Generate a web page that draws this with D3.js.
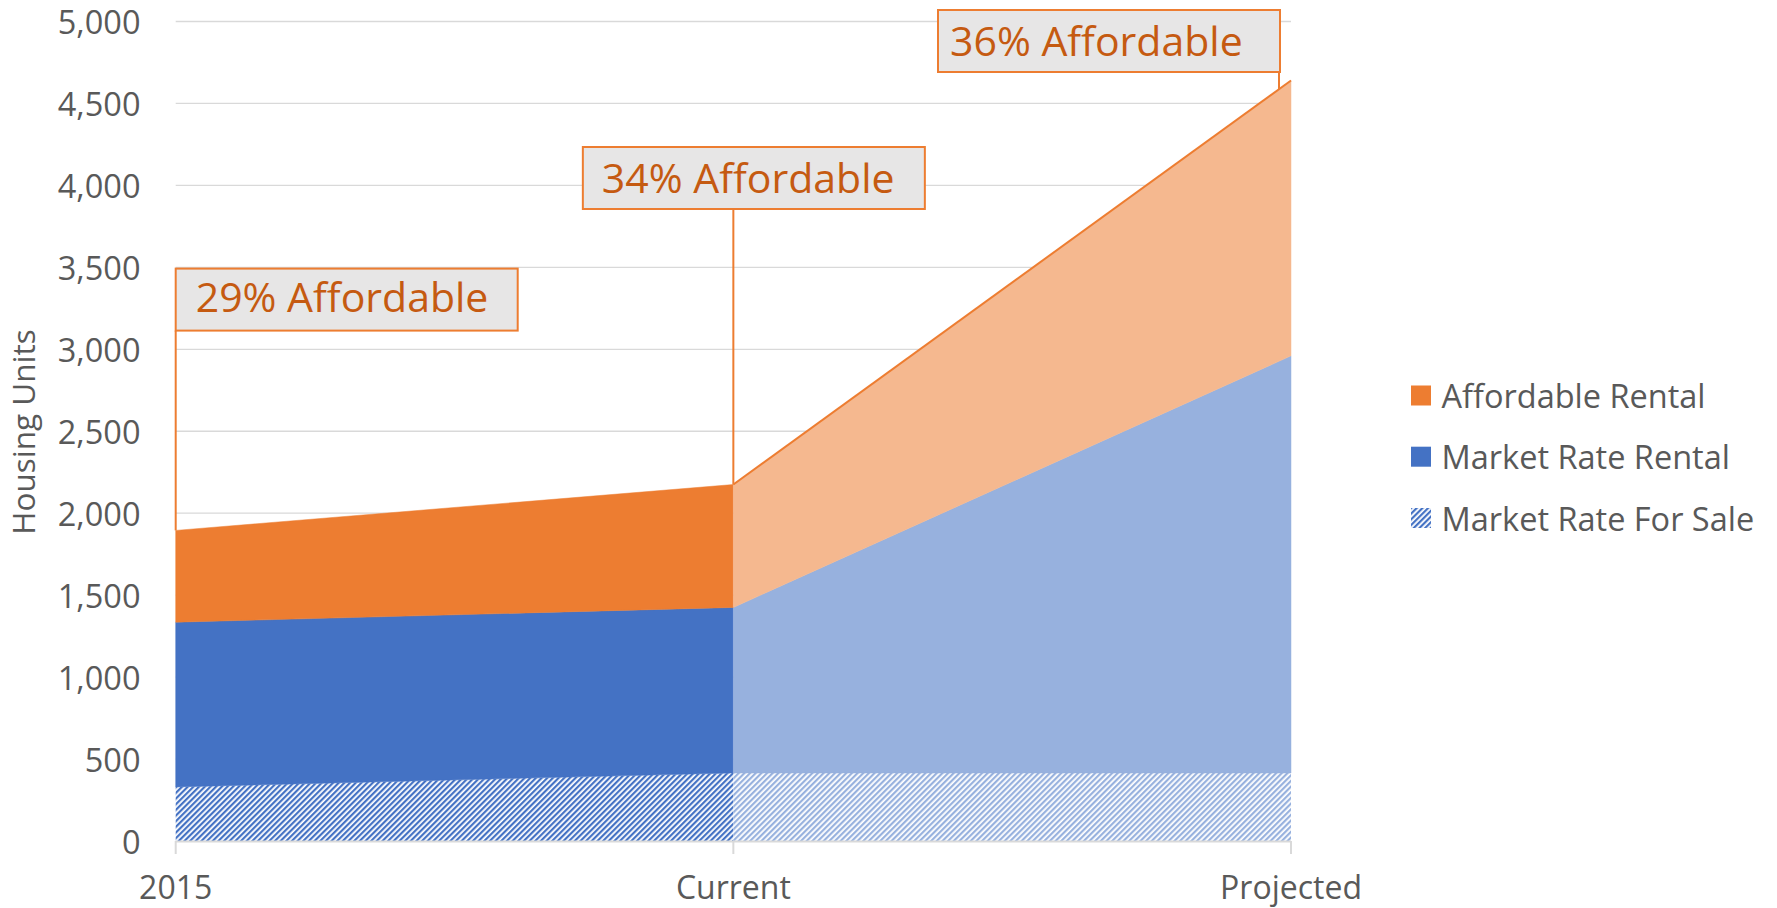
<!DOCTYPE html>
<html>
<head>
<meta charset="utf-8">
<script src="https://cdn.jsdelivr.net/npm/d3@7"></script>
<style>
  html, body { margin: 0; padding: 0; background: #fff; }
  svg { display: block; }
  text { font-family: "Open Sans", "Noto Sans", sans-serif; }
</style>
</head>
<body>
<svg id="chart" width="1777" height="908"></svg>
<script>
// ---- data ----
const categories = ["2015", "Current", "Projected"];
const forSale = [330, 415, 415];
const marketRental = [1005, 1010, 2545];
const affordableRental = [560, 750, 1680];
const yTicks = [0, 500, 1000, 1500, 2000, 2500, 3000, 3500, 4000, 4500, 5000];
const seriesNames = ["Affordable Rental", "Market Rate Rental", "Market Rate For Sale"];
const annotations = ["29% Affordable", "34% Affordable", "36% Affordable"];

// ---- layout ----
const plotL = 175.7, plotR = 1291, plotT = 21.5, plotB = 841;
const svg = d3.select("#chart");

const x = d3.scalePoint().domain(categories).range([plotL, plotR]);
const y = d3.scaleLinear().domain([0, 5000]).range([plotB, plotT]);

const rows = categories.map((c, i) => ({
  cat: c, forSale: forSale[i], marketRental: marketRental[i], affordable: affordableRental[i]
}));
const keys = ["forSale", "marketRental", "affordable"];
const stacked = d3.stack().keys(keys)(rows);

// patterns
const defs = svg.append("defs");
function hatch(id, color) {
  const p = defs.append("pattern").attr("id", id)
    .attr("patternUnits", "userSpaceOnUse")
    .attr("width", 4).attr("height", 4)
    .attr("patternTransform", "rotate(45)");
  p.append("rect").attr("width", 4).attr("height", 4).attr("fill", "#fff");
  p.append("rect").attr("width", 2.2).attr("height", 4).attr("fill", color);
}
hatch("hatchDark", "#4472C4");
hatch("hatchLight", "#97B1DE");

const colors = {
  forSale: ["url(#hatchDark)", "url(#hatchLight)"],
  marketRental: ["#4472C4", "#97B1DE"],
  affordable: ["#ED7D31", "#F5B88F"]
};

// gridlines
svg.append("g").selectAll("line").data(yTicks.filter(t => t > 0)).join("line")
  .attr("x1", plotL).attr("x2", plotR)
  .attr("y1", d => y(d)).attr("y2", d => y(d))
  .attr("stroke", "#D9D9D9").attr("stroke-width", 1.3);

// areas
const area = d3.area()
  .x(d => x(d.data.cat))
  .y0(d => y(d[0]))
  .y1(d => y(d[1]));

const gAreas = svg.append("g");
stacked.forEach(s => {
  [0, 1].forEach(seg => {
    const fill = colors[s.key][seg];
    gAreas.append("path")
      .datum(s.slice(seg, seg + 2))
      .attr("d", area)
      .attr("fill", fill)
      .attr("stroke", fill.startsWith("url") ? "none" : fill)
      .attr("stroke-width", 0.5);
  });
});

// top outline of affordable (visible on projected segment)
const topLine = d3.line().x(d => x(d.data.cat)).y(d => y(d[1]));
svg.append("path").datum(stacked[2].slice(1, 3))
  .attr("d", topLine).attr("fill", "none")
  .attr("stroke", "#ED7D31").attr("stroke-width", 2);

// x axis
svg.append("line").attr("x1", plotL).attr("x2", plotR)
  .attr("y1", plotB + 0.5).attr("y2", plotB + 0.5)
  .attr("stroke", "#D9D9D9").attr("stroke-width", 2);
svg.append("g").selectAll("line").data(categories).join("line")
  .attr("x1", d => x(d)).attr("x2", d => x(d))
  .attr("y1", plotB).attr("y2", plotB + 13)
  .attr("stroke", "#D9D9D9").attr("stroke-width", 2);
svg.append("g").selectAll("text").data(categories).join("text")
  .attr("x", d => x(d)).attr("y", 899)
  .attr("text-anchor", "middle")
  .attr("font-size", 32).attr("fill", "#595959")
  .text(d => d);

// y axis labels
svg.append("g").selectAll("text").data(yTicks).join("text")
  .attr("x", 140.5).attr("y", d => y(d))
  .attr("text-anchor", "end").attr("dominant-baseline", "central")
  .attr("font-size", 32.5).attr("fill", "#595959")
  .text(d => d3.format(",")(d));

// y title
svg.append("text")
  .attr("transform", "translate(35,432) rotate(-90)")
  .attr("text-anchor", "middle")
  .attr("font-size", 31.5).attr("fill", "#595959")
  .text("Housing Units");

// annotations
const boxes = [
  { bx: x(categories[0]), by: 268.6, lx: x(categories[0]), tx: 20, ty: 43 },
  { bx: x(categories[1]) - 150.5, by: 147, lx: x(categories[1]), tx: 19, ty: 46 },
  { bx: x(categories[2]) - 353, by: 10, lx: x(categories[2]) - 12, tx: 12, ty: 46 }
];
const bw = 342, bh = 62;
const gAnn = svg.append("g");
boxes.forEach((b, i) => {
  const total = forSale[i] + marketRental[i] + affordableRental[i];
  let yEnd = y(total);
  if (i === 2) {
    const t = (b.lx - x(categories[1])) / (x(categories[2]) - x(categories[1]));
    const prev = forSale[1] + marketRental[1] + affordableRental[1];
    yEnd = y(prev + t * (total - prev));
  }
  gAnn.append("line").attr("x1", b.lx).attr("x2", b.lx)
    .attr("y1", b.by + bh).attr("y2", yEnd)
    .attr("stroke", "#ED7D31").attr("stroke-width", 2);
  gAnn.append("rect").attr("x", b.bx).attr("y", b.by)
    .attr("width", bw).attr("height", bh)
    .attr("fill", "#E7E6E6").attr("stroke", "#ED7D31").attr("stroke-width", 2);
  gAnn.append("text").attr("x", b.bx + b.tx).attr("y", b.by + b.ty)
    .attr("font-size", 41).attr("fill", "#C55A11")
    .text(annotations[i]);
});

// legend
const legendFills = ["#ED7D31", "#4472C4", "url(#hatchDark)"];
const legendY = [395.5, 456.7, 518];
const gLeg = svg.append("g");
seriesNames.forEach((n, i) => {
  gLeg.append("rect").attr("x", 1411).attr("y", legendY[i] - 10)
    .attr("width", 20).attr("height", 20).attr("fill", legendFills[i]);
  gLeg.append("text").attr("x", 1441.5).attr("y", legendY[i])
    .attr("dominant-baseline", "central")
    .attr("font-size", 32.5).attr("fill", "#595959")
    .text(n);
});
</script>
</body>
</html>
